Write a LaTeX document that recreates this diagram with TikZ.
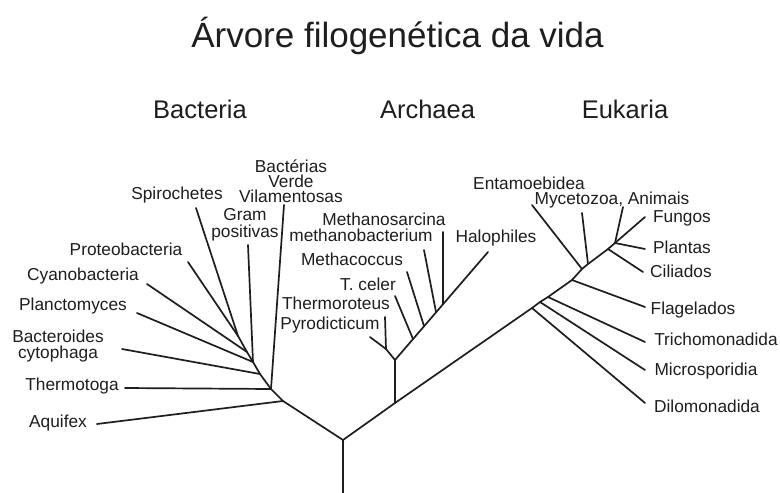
\documentclass[tikz,border=0pt]{standalone}
\usepackage{fontspec}
\setmainfont{Liberation Sans}
\definecolor{ink}{HTML}{1E1E1E}
\begin{document}
\begin{tikzpicture}[x=1pt,y=-1pt,
  branch/.style={draw=ink,line width=1.7pt,line join=round,line cap=round},
  leaf/.style={inner sep=0pt,text=ink,font=\fontsize{17.3}{15.5}\selectfont,align=center},
  domainlabel/.style={inner sep=0pt,text=ink,font=\fontsize{25.5}{28}\selectfont,anchor=base},
  titletext/.style={inner sep=0pt,text=ink,font=\fontsize{35}{40}\selectfont,anchor=base}]
\useasboundingbox[fill=white] (0,0) rectangle (780,493);
% titles
\node[titletext] (title) at (397.5,47) {Árvore filogenética da vida};
\node[domainlabel] (bac) at (200,118) {Bacteria};
\node[domainlabel] (arc) at (427.5,118) {Archaea};
\node[domainlabel] (euk) at (625,118) {Eukaria};
% labels
\node[leaf,anchor=mid] (aquifex) at (58,425) {Aquifex};
\node[leaf,anchor=mid] (thermotoga) at (72,388) {Thermotoga};
\node[leaf] (bacteroides) at (58,346) {Bacteroides\\cytophaga};
\node[leaf,anchor=mid] (planctomyces) at (73,308) {Planctomyces};
\node[leaf,anchor=mid] (cyanobacteria) at (83,278) {Cyanobacteria};
\node[leaf,anchor=mid] (proteobacteria) at (126,253) {Proteobacteria};
\node[leaf,anchor=mid] (spirochetes) at (177,197) {Spirochetes};
\node[leaf,font=\fontsize{17.3}{17}\selectfont] (grampos) at (245,225) {Gram\\positivas};
\node[leaf,font=\fontsize{17.3}{15}\selectfont] (bactverde) at (291,181) {Bactérias\\Verde\\Vilamentosas};
\node[leaf,anchor=mid] (methanosarcina) at (384,223) {Methanosarcina};
\node[leaf,anchor=mid] (methanobact) at (361,239) {methanobacterium};
\node[leaf,anchor=mid] (methacoccus) at (352,263) {Methacoccus};
\node[leaf,anchor=mid] (tceler) at (368,288) {T. celer};
\node[leaf,anchor=mid] (thermoroteus) at (336,307) {Thermoroteus};
\node[leaf,anchor=mid] (pyrodicticum) at (330,327) {Pyrodicticum};
\node[leaf,anchor=mid] (halophiles) at (496,240) {Halophiles};
\node[leaf,anchor=mid] (entamoebidea) at (529,187) {Entamoebidea};
\node[leaf,anchor=mid] (mycetozoa) at (612,202) {Mycetozoa, Animais};
\node[leaf,anchor=mid] (fungos) at (682,220) {Fungos};
\node[leaf,anchor=mid] (plantas) at (682,251) {Plantas};
\node[leaf,anchor=mid] (ciliados) at (681,275) {Ciliados};
\node[leaf,anchor=mid] (flagelados) at (693,312) {Flagelados};
\node[leaf,anchor=mid] (trichomonadida) at (716,343) {Trichomonadida};
\node[leaf,anchor=mid] (microsporidia) at (706,373) {Microsporidia};
\node[leaf,anchor=mid] (dilomonadida) at (707,410) {Dilomonadida};
% junctions
\coordinate (rb) at (343,493);
\coordinate (R) at (343,440);
\coordinate (A) at (283,401);
\coordinate (T) at (271,389);
\coordinate (B) at (260,374);
\coordinate (G) at (253,362);
\coordinate (C) at (247,352);
\coordinate (S) at (238,336);
\coordinate (aqT) at (97,424);
\coordinate (thT) at (125,388);
\coordinate (baT) at (122,349);
\coordinate (plT) at (137,313);
\coordinate (cyT) at (147,284);
\coordinate (prT) at (188,262);
\coordinate (spT) at (196,208);
\coordinate (grT) at (248,245);
\coordinate (viT) at (284,205);
% archaea
\coordinate (AE) at (395,403);
\coordinate (J) at (395,360);
\coordinate (P) at (386,349);
\coordinate (pyT) at (370,337);
\coordinate (thrT) at (385,317);
\coordinate (H) at (488,252);
\coordinate (s1) at (413,339);
\coordinate (s2) at (424,326);
\coordinate (s3) at (436,312);
\coordinate (s4) at (443,304);
\coordinate (tcT) at (395,296);
\coordinate (mcT) at (407,272);
\coordinate (mbT) at (424,250);
\coordinate (msT) at (443,232);
% eukaria
\coordinate (E1) at (532,308);
\coordinate (E2) at (540,302);
\coordinate (E3) at (548,297);
\coordinate (E4) at (572,280);
\coordinate (E5) at (582,269);
\coordinate (E6) at (588,264);
\coordinate (E7) at (608,249);
\coordinate (F) at (615,243);
\coordinate (diT) at (645,403);
\coordinate (miT) at (645,370);
\coordinate (trT) at (645,342);
\coordinate (flT) at (645,307);
\coordinate (ciT) at (643,272);
\coordinate (plaT) at (645,249);
\coordinate (fuT) at (645,217);
\coordinate (anT) at (623,207);
\coordinate (myT) at (582,213);
\coordinate (enT) at (532,205);
% bacteria branches
\draw[branch] (rb) -- (R) -- (A) -- (T) -- (B) -- (G) -- (C) -- (S);
\draw[branch] (A) -- (aqT);
\draw[branch] (T) -- (thT);
\draw[branch] (T) -- (viT);
\draw[branch] (B) -- (baT);
\draw[branch] (G) -- (plT);
\draw[branch] (G) -- (grT);
\draw[branch] (C) -- (cyT);
\draw[branch] (S) -- (prT);
\draw[branch] (S) -- (spT);
% main right branch and archaea
\draw[branch] (R) -- (AE) -- (E1) -- (E2) -- (E3) -- (E4) -- (E5) -- (E6) -- (E7) -- (F);
\draw[branch] (AE) -- (J) -- (H);
\draw[branch] (J) -- (P) -- (pyT);
\draw[branch] (P) -- (thrT);
\draw[branch] (s1) -- (tcT);
\draw[branch] (s2) -- (mcT);
\draw[branch] (s3) -- (mbT);
\draw[branch] (s4) -- (msT);
% eukaria branches
\draw[branch] (E1) -- (diT);
\draw[branch] (E2) -- (miT);
\draw[branch] (E3) -- (trT);
\draw[branch] (E4) -- (flT);
\draw[branch] (E5) -- (enT);
\draw[branch] (E6) -- (myT);
\draw[branch] (E7) -- (ciT);
\draw[branch] (F) -- (plaT);
\draw[branch] (F) -- (fuT);
\draw[branch] (F) -- (anT);
\end{tikzpicture}
\end{document}
